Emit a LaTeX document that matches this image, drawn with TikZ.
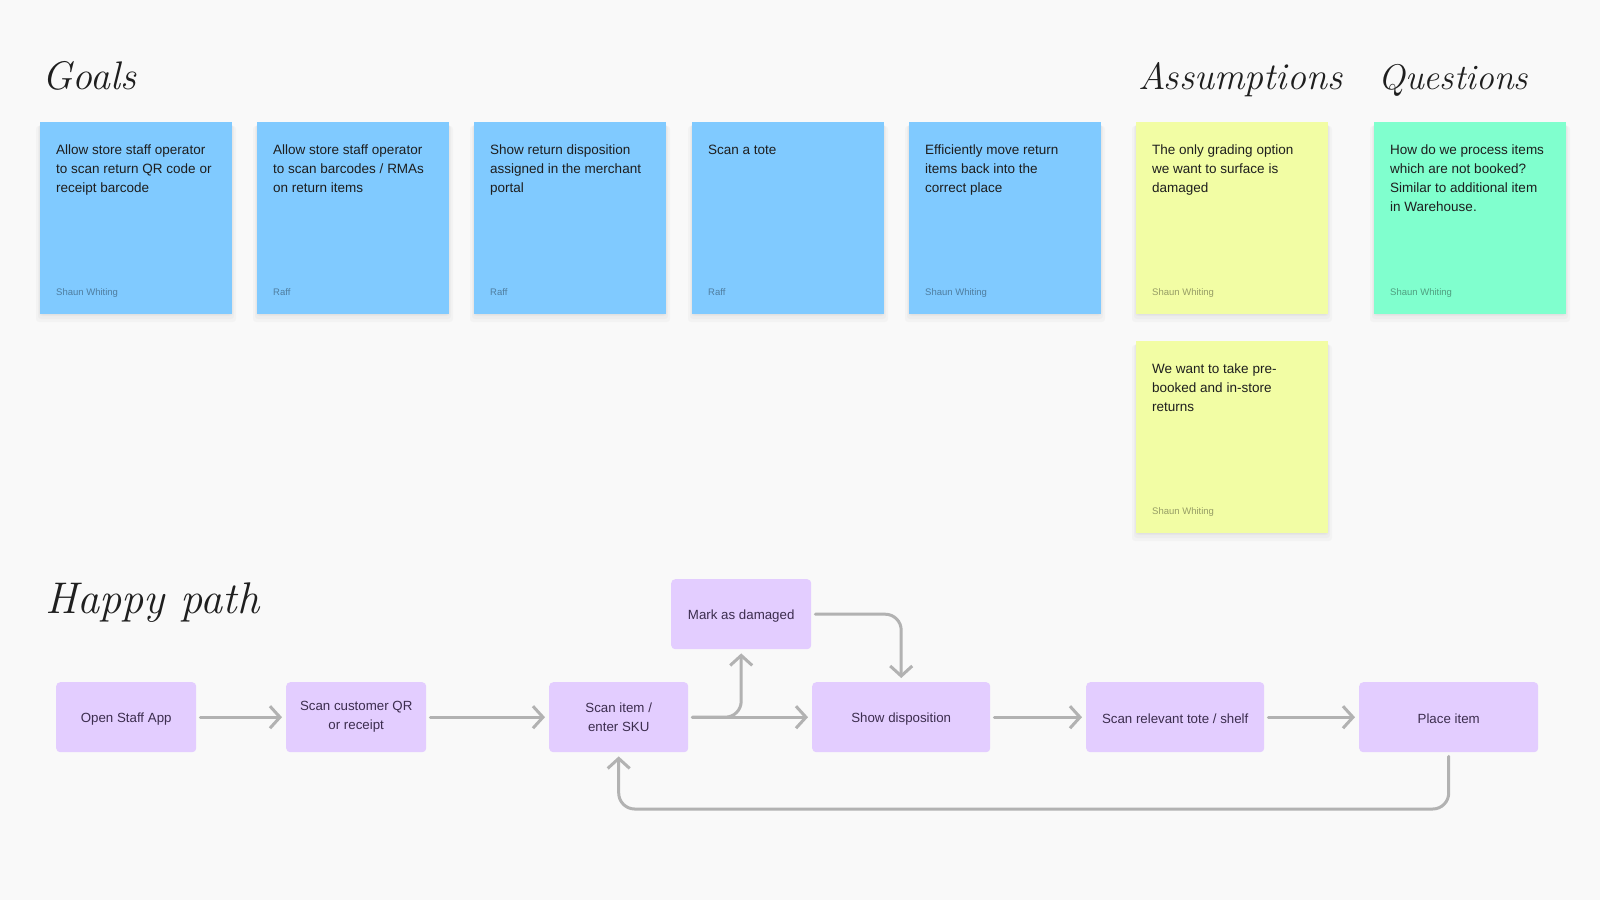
\documentclass[tikz,border=0pt]{standalone}
\usepackage{fontspec}
\newfontfamily\uifont{Liberation Sans}
\usetikzlibrary{arrows.meta,calc}
\definecolor{bg}{RGB}{249,249,249}
\definecolor{stblue}{RGB}{128,202,255}
\definecolor{styellow}{RGB}{242,253,164}
\definecolor{stgreen}{RGB}{128,255,206}
\definecolor{flowfill}{RGB}{227,205,255}
\definecolor{flowtext}{RGB}{60,45,78}
\definecolor{arrowgrey}{RGB}{178,178,178}
\definecolor{stickytext}{RGB}{30,30,30}
\tikzset{
 sticky/.style={draw=none, minimum width=192pt, minimum height=192pt, inner sep=0pt, anchor=north west},
 stickytxt/.style={anchor=north west, inner sep=0pt, align=left, font=\uifont\fontsize{13.5}{19}\selectfont, text=stickytext},
 author/.style={anchor=base west, inner sep=0pt, font=\uifont\fontsize{9.5}{11}\selectfont, text=black, text opacity=0.38},
 flowbox/.style={fill=flowfill, rounded corners=4pt, minimum height=70pt, inner sep=0pt, anchor=north west, align=center, font=\uifont\fontsize{13.3}{19}\selectfont, text=flowtext, execute at begin node={\rule{0pt}{13.5pt}}},
 flow/.style={draw=arrowgrey, line width=3pt, -{Straight Barb[length=10pt,width=22pt,line width=3pt]}, line cap=round, line join=round, rounded corners=16pt, shorten <=4pt, shorten >=4pt},
 title/.style={anchor=base west, inner sep=0pt, font=\fontsize{37}{40}\selectfont\itshape, text=black!88},
 shade/.style={fill=black, opacity=0.022, rounded corners=3pt},
}
\newcommand\stickynote[6]{%
 \fill[shade] (#2-4,#3+4) rectangle ++(200,196);
 \fill[shade] (#2-2,#3+3) rectangle ++(196,194);
 \fill[shade] (#2-1,#3+2) rectangle ++(194,192);
 \fill[shade] (#2,#3+1) rectangle ++(192,192);
 \node[sticky, fill=#4] (#1) at (#2,#3) {};
 \node[stickytxt] (#1t) at ([shift={(16,20)}]#1.north west) {\rule{0pt}{12pt}#5};
 \node[author] (#1a) at ([shift={(16,173)}]#1.north west) {#6};
}
\begin{document}
\begin{tikzpicture}[x=1pt,y=-1pt]
\fill[bg] (0,0) rectangle (1600,900);
\useasboundingbox (0,0) rectangle (1600,900);

% titles
\node[title] (tgoals) at (42,89) {\resizebox{94pt}{!}{Goals}};
\node[title] (tass) at (1138,89) {\resizebox{204pt}{!}{Assumptions}};
\node[title] (tq) at (1378,89) {\resizebox{150pt}{!}{Questions}};
\node[title] (thappy) at (45,613) {\resizebox{214pt}{!}{Happy path}};

% goals
\stickynote{g1}{40}{122}{stblue}{Allow store staff operator\\to scan return QR code or\\receipt barcode}{Shaun Whiting}
\stickynote{g2}{257}{122}{stblue}{Allow store staff operator\\to scan barcodes / RMAs\\on return items}{Raff}
\stickynote{g3}{474}{122}{stblue}{Show return disposition\\assigned in the merchant\\portal}{Raff}
\stickynote{g4}{692}{122}{stblue}{Scan a tote}{Raff}
\stickynote{g5}{909}{122}{stblue}{Efficiently move return\\items back into the\\correct place}{Shaun Whiting}
% assumptions
\stickynote{a1}{1136}{122}{styellow}{The only grading option\\we want to surface is\\damaged}{Shaun Whiting}
\stickynote{a2}{1136}{341}{styellow}{We want to take pre-\\booked and in-store\\returns}{Shaun Whiting}
% questions
\stickynote{q1}{1374}{122}{stgreen}{How do we process items\\which are not booked?\\Similar to additional item\\in Warehouse.}{Shaun Whiting}

% happy path
\node[flowbox, minimum width=140pt] (open) at (56,682) {Open Staff App};
\node[flowbox, minimum width=140pt] (custqr) at (286,682) {Scan customer QR\\or receipt};
\node[flowbox, minimum width=139pt] (scanitem) at (549,682) {Scan item /\\enter SKU};
\node[flowbox, minimum width=140pt] (damaged) at (671,579) {Mark as damaged};
\node[flowbox, minimum width=178pt] (showdisp) at (812,682) {Show disposition};
\node[flowbox, minimum width=178pt] (scantote) at (1086,682) {Scan relevant tote / shelf};
\node[flowbox, minimum width=179pt] (place) at (1359,682) {Place item};
\coordinate (loopy) at (0,809);

\draw[flow] (open.east) -- (custqr.west);
\draw[flow] (custqr.east) -- (scanitem.west);
\draw[flow] (scanitem.east) -- (showdisp.west);
\draw[flow] (scanitem.east) -| (damaged.south);
\draw[flow] (damaged.east) -| (showdisp.north);
\draw[flow] (showdisp.east) -- (scantote.west);
\draw[flow] (scantote.east) -- (place.west);
\draw[flow] (place.south) -- (place.south |- loopy) -| (scanitem.south);
\end{tikzpicture}
\end{document}
